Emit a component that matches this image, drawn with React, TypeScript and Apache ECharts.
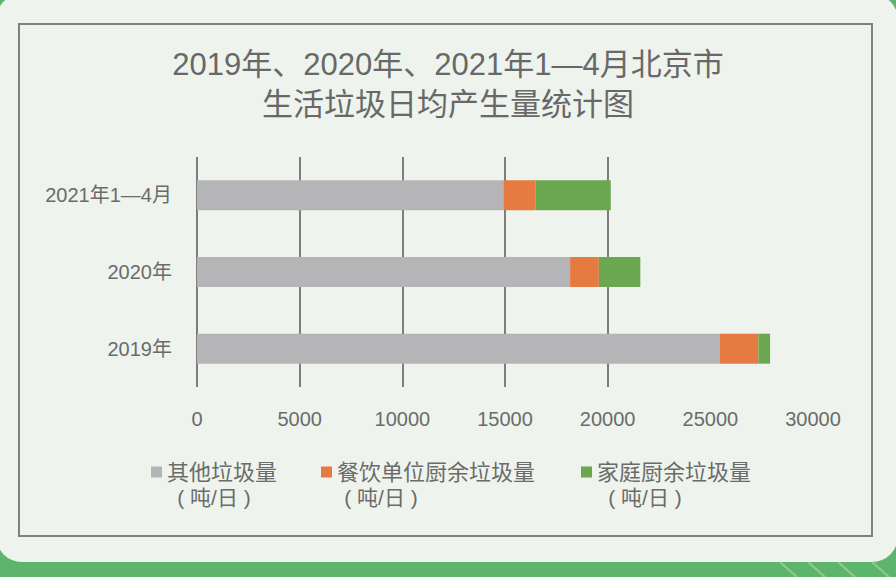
import React, { useEffect, useRef } from "react";
import * as echarts from "echarts";

const categories = ["2019年", "2020年", "2021年1—4月"];
const seriesNames = ["其他垃圾量", "餐饮单位厨余垃圾量", "家庭厨余垃圾量"];
const otherWaste = [25460, 18170, 14920];
const restaurantWaste = [1880, 1400, 1560];
const householdWaste = [570, 2020, 3670];
const xTicks = { min: 0, max: 30000, interval: 5000 };
const titleLines = ["2019年、2020年、2021年1—4月北京市", "生活垃圾日均产生量统计图"];
const unitLabel = "( 吨/日 )";

const FONT = "'Liberation Sans', 'Noto Sans CJK SC', sans-serif";
const COLORS = ["#b5b5b7", "#e57b40", "#6ba650"];
const TEXT = "#6b6b6b";

export default function App() {
  const ref = useRef<HTMLDivElement>(null);
  useEffect(() => {
    if (!ref.current) return;
    const chart = echarts.init(ref.current, undefined, { renderer: "svg" });
    const lineColors = [0, 5000, 10000, 15000, 20000, 25000, 30000].map((v) =>
      v <= 20000 ? "#7d7d7d" : "rgba(0,0,0,0)"
    );
    const legendLeft = [146, 316, 576];
    const unitX = [214, 381, 645];
    const stripes = [780, 808, 838, 872].map((x) => ({
      type: "line",
      z: -5,
      shape: { x1: x, y1: 562, x2: x + 17, y2: 577 },
      style: { stroke: "#a8d98f", lineWidth: 2, opacity: 0.7 },
    }));
    chart.setOption({
      animation: false,
      backgroundColor: "#5db46c",
      title: {
        text: titleLines.join("\n"),
        left: 443,
        top: 39,
        textAlign: "center",
        textStyle: {
          fontFamily: FONT,
          fontSize: 31,
          fontWeight: "normal",
          color: "#686868",
          lineHeight: 40,
        },
      },
      graphic: [
        {
          type: "rect",
          z: -10,
          shape: { x: -4, y: -6, width: 902, height: 568, r: 26 },
          style: { fill: "#eef4ed" },
        },
        ...stripes,
        {
          type: "rect",
          z: -8,
          shape: { x: 19, y: 24, width: 853, height: 512 },
          style: { fill: "none", stroke: "#808080", lineWidth: 2 },
        },
        ...unitX.map((x) => ({
          type: "text",
          x,
          y: 497,
          style: {
            text: unitLabel,
            fontFamily: FONT,
            fontSize: 21,
            fill: TEXT,
            align: "center",
            verticalAlign: "middle",
          },
        })),
      ],
      legend: seriesNames.map((name, i) => ({
        data: [name],
        left: legendLeft[i],
        top: 456,
        icon: "rect",
        itemWidth: 11,
        itemHeight: 11,
        textStyle: { fontFamily: FONT, fontSize: 22, color: TEXT },
      })),
      grid: { left: 197, top: 157, width: 616, height: 230 },
      xAxis: {
        type: "value",
        min: xTicks.min,
        max: xTicks.max,
        interval: xTicks.interval,
        axisLine: { show: false },
        axisTick: { show: false },
        axisLabel: {
          margin: 22,
          fontFamily: FONT,
          fontSize: 20,
          color: TEXT,
          formatter: (v: number) => String(v),
        },
        splitLine: { show: true, lineStyle: { color: lineColors, width: 2 } },
      },
      yAxis: {
        type: "category",
        data: categories,
        axisLine: { show: false },
        axisTick: { show: false },
        axisLabel: { margin: 25, fontFamily: FONT, fontSize: 20, color: TEXT },
      },
      series: [otherWaste, restaurantWaste, householdWaste].map((data, i) => ({
        name: seriesNames[i],
        type: "bar",
        stack: "total",
        barWidth: 30,
        itemStyle: { color: COLORS[i] },
        data,
      })),
    });
    return () => chart.dispose();
  }, []);
  return (
    <div
      ref={ref}
      style={{ position: "fixed", left: 0, top: 0, width: 896, height: 577 }}
    />
  );
}
